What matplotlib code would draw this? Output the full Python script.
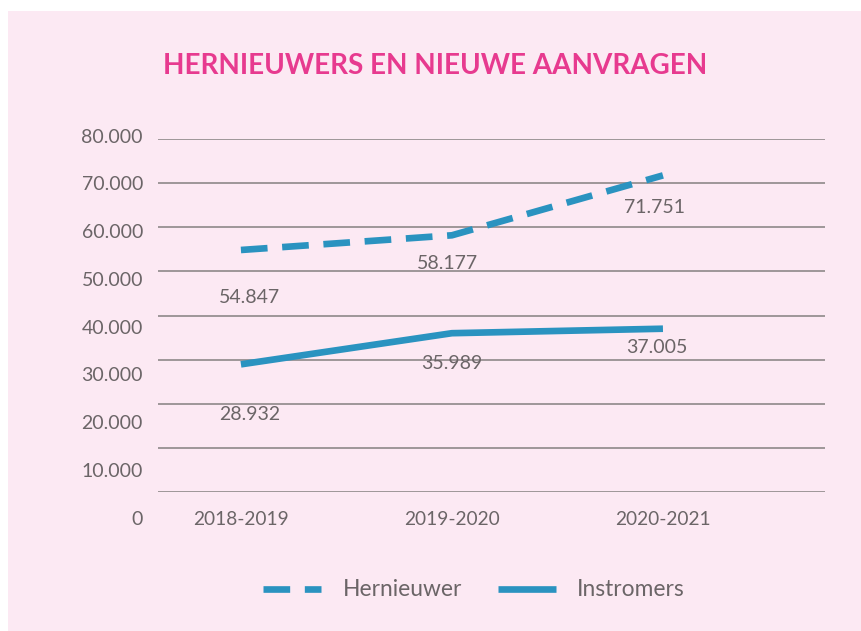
import numpy as np
import matplotlib.pyplot as plt
from matplotlib.patches import Rectangle

# Data
years = ['2018-2019', '2019-2020', '2020-2021']
hernieuwer = [54847, 58177, 71751]
instromers = [28932, 35989, 37005]
y_ticks = [0, 10000, 20000, 30000, 40000, 50000, 60000, 70000, 80000]


def nl(v):
    # Dutch thousands separator
    return f"{v:,}".replace(",", ".")


pink_bg = '#fce9f3'
blue = '#2a93c0'
grey_txt = '#6b6567'
title_col = '#e73a8f'

plt.rcParams['font.family'] = ['Lato', 'DejaVu Sans']

fig = plt.figure(figsize=(8.61, 6.31), dpi=100, facecolor='white')
W, H = 861, 631
fig.patches.append(Rectangle((8 / W, 0), 1, (H - 11) / H, transform=fig.transFigure,
                             facecolor=pink_bg, edgecolor='none', zorder=-10))

# axes placed in pixel terms: gridlines from x=158 to 825, y=139 (80k) to 492 (0)
ax = fig.add_axes([158 / W, (H - 492) / H, 667 / W, 353 / H])
ax.set_facecolor('none')
x = np.arange(len(years))
ax.set_xlim(-0.393, 2.768)
ax.set_ylim(0, 80000)

for s in ax.spines.values():
    s.set_visible(False)
ax.set_yticks(y_ticks)
ax.yaxis.grid(True, color='#858080', linewidth=1.1)
ax.set_axisbelow(True)
ax.tick_params(length=0)
ax.set_yticklabels([])
ax.set_xticks(x)
ax.set_xticklabels(years, fontsize=13.8, color=grey_txt)
ax.tick_params(axis='x', pad=14)

# y labels in the reference sit on a slightly wider spacing than the grid
for v in y_ticks:
    ypos = 80453 - (80000 - v) * 1.0822
    ax.text(-0.0225, ypos, nl(v), transform=ax.get_yaxis_transform(),
            ha='right', va='center', fontsize=14, color=grey_txt, clip_on=False)

ax.plot(x, hernieuwer, color=blue, linewidth=4.8, dashes=(4, 2.2),
        solid_capstyle='butt', dash_capstyle='butt', label='Hernieuwer')
ax.plot(x, instromers, color=blue, linewidth=4.8, solid_capstyle='butt',
        label='Instromers')

h_off = [(9, -48), (-4, -28), (-8, -32)]
i_off = [(9, -50), (0, -30), (-6, -19)]
for xi, v, off in zip(x, hernieuwer, h_off):
    ax.annotate(nl(v), (xi, v), xytext=off, textcoords='offset pixels',
                ha='center', va='center', fontsize=14, color=grey_txt)
for xi, v, off in zip(x, instromers, i_off):
    ax.annotate(nl(v), (xi, v), xytext=off, textcoords='offset pixels',
                ha='center', va='center', fontsize=14, color=grey_txt)

fig.text(435 / W, 1 - 66 / H, 'HERNIEUWERS EN NIEUWE AANVRAGEN', ha='center', va='center',
         fontsize=20.1, fontweight='bold', color=title_col)

handles, labels = ax.get_legend_handles_labels()
leg = fig.legend(handles, labels, loc='center', bbox_to_anchor=(474 / W, 1 - 590 / H),
                 ncol=2, frameon=False, fontsize=16.4, handlelength=2.55,
                 columnspacing=1.58, handletextpad=0.92)
for t in leg.get_texts():
    t.set_color(grey_txt)

fig.savefig('out.png', dpi=100, facecolor=fig.get_facecolor())
